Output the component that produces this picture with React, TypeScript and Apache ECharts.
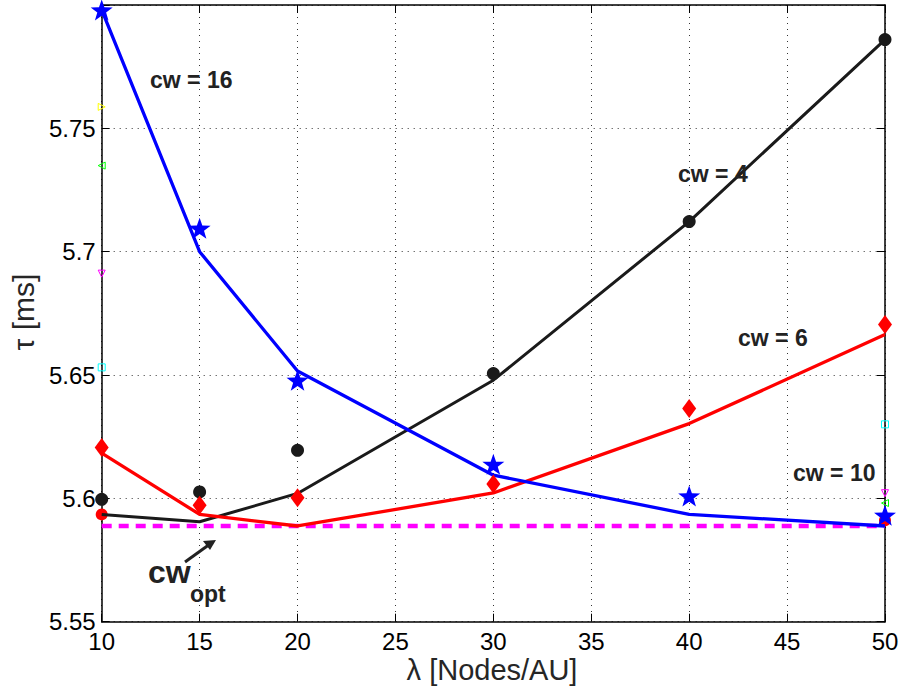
import React, { useEffect, useRef } from "react";
import * as echarts from "echarts";

const xValues = [10, 15, 20, 30, 40, 50];
const cw16Line = [5.798, 5.7, 5.6516, 5.6094, 5.5935, 5.5888];
const cw16Marks = [5.798, 5.7095, 5.6479, 5.6138, 5.601, 5.5932];
const cw4Line = [5.5935, 5.5905, 5.602, 5.6479, 5.7122, 5.786];
const cw4Marks = [5.5996, 5.6026, 5.6195, 5.6506, 5.7122, 5.786];
const cw6Line = [5.6183, 5.5935, 5.5888, 5.6022, 5.6303, 5.6664];
const cw6Marks = [5.6206, 5.5972, 5.6002, 5.6058, 5.6364, 5.6705];
const cwOptValue = 5.5888;
const redEdgeX = [10, 50];
const redEdgeY = [5.5935, 5.5911];
const edgeX = [10, 10, 10, 10, 50, 50, 50];
const edgeY = [5.7587, 5.7349, 5.6911, 5.6531, 5.63, 5.6021, 5.5981];
const edgeColors = ["#ffff00", "#00ff00", "#ff00ff", "#00ffff", "#00ffff", "#ff00ff", "#00ff00"];
const edgeSymbols = ["triangle", "triangle", "triangle", "rect", "rect", "triangle", "triangle"];
const edgeRot = [-90, 90, 180, 0, 0, 180, 90];
const xTicks = { min: 10, max: 50, interval: 5 };
const yTicks = { min: 5.55, max: 5.8, interval: 0.05 };
const xLabel = "λ [Nodes/AU]";
const yLabel = "τ [ms]";
const annotations = ["cw = 16", "cw = 4", "cw = 6", "cw = 10"];

const STAR =
  "path://M0,-10L2.35,-3.24L9.51,-3.09L3.8,1.24L5.88,8.09L0,4L-5.88,8.09L-3.8,1.24L-9.51,-3.09L-2.35,-3.24Z";

const pairs = (xs: number[], ys: number[]) => xs.map((x, i) => [x, ys[i]]);

export default function App() {
  const ref = useRef<HTMLDivElement>(null);
  useEffect(() => {
    if (!ref.current) return;
    const chart = echarts.init(ref.current, null, { renderer: "svg" });
    const font = "'Liberation Sans', Arial, Helvetica, sans-serif";
    const splitLine = { show: true, lineStyle: { color: "#333", type: [1, 5] as any, width: 1 } };
    const axisLine = { show: true, lineStyle: { color: "#000", width: 1.5 } };
    const axisTick = { show: true, inside: true, length: 8, lineStyle: { color: "#000", width: 1 } };
    const fmtY = (v: number) => (v > 5.799 ? "" : String(+v.toFixed(2)));
    chart.setOption({
      animation: false,
      backgroundColor: "#fff",
      grid: { left: 101.7, right: 17, top: 5, bottom: 65.3, containLabel: false },
      xAxis: [
        {
          type: "value",
          ...xTicks,
          axisLine,
          axisTick,
          splitLine,
          axisLabel: { color: "#000", fontSize: 24, fontFamily: font, margin: 8 },
        },
        {
          type: "value",
          position: "top",
          ...xTicks,
          axisLine,
          axisTick,
          splitLine: { show: false },
          axisLabel: { show: false },
        },
      ],
      yAxis: [
        {
          type: "value",
          ...yTicks,
          axisLine,
          axisTick,
          splitLine,
          axisLabel: { color: "#000", fontSize: 24, fontFamily: font, margin: 6, formatter: fmtY },
        },
        {
          type: "value",
          position: "right",
          ...yTicks,
          axisLine,
          axisTick,
          splitLine: { show: false },
          axisLabel: { show: false },
        },
      ],
      series: [
        {
          type: "line",
          name: "cw opt",
          data: xValues.map((x) => [x, cwOptValue]),
          showSymbol: false,
          lineStyle: { color: "#ff00ff", width: 4.5, type: [10, 7] as any },
          z: 2,
        },
        {
          type: "scatter",
          data: redEdgeX.map((x, i) => [x, redEdgeY[i]]),
          symbol: "circle",
          symbolSize: 12,
          itemStyle: { color: "#ff0000", opacity: 1 },
          z: 2,
        },
        {
          type: "line",
          name: "cw = 4",
          data: pairs(xValues, cw4Line),
          showSymbol: false,
          lineStyle: { color: "#1a1a1a", width: 3 },
          z: 3,
        },
        {
          type: "line",
          name: "cw = 6",
          data: pairs(xValues, cw6Line),
          showSymbol: false,
          lineStyle: { color: "#ff0000", width: 3.3 },
          z: 3,
        },
        {
          type: "line",
          name: "cw = 16",
          data: pairs(xValues, cw16Line),
          showSymbol: false,
          lineStyle: { color: "#0000ff", width: 3.3 },
          z: 3,
        },
        {
          type: "scatter",
          data: pairs(xValues, cw4Marks),
          symbol: "circle",
          symbolSize: 13,
          itemStyle: { color: "#1a1a1a", opacity: 1 },
          z: 4,
        },
        {
          type: "scatter",
          data: pairs(xValues, cw6Marks),
          symbol: "diamond",
          symbolSize: [14, 19],
          itemStyle: { color: "#ff0000", opacity: 1 },
          z: 4,
        },
        {
          type: "scatter",
          data: pairs(xValues, cw16Marks),
          symbol: STAR,
          symbolSize: [22, 21],
          itemStyle: { color: "#0000ff", opacity: 1 },
          z: 4,
        },
        {
          type: "scatter",
          data: edgeX.map((x, i) => ({
            value: [x, edgeY[i]],
            symbol: edgeSymbols[i],
            symbolRotate: edgeRot[i],
            itemStyle: { color: "none", borderColor: edgeColors[i], borderWidth: 1, opacity: 1 },
          })),
          symbolSize: 7,
          z: 4,
        },
      ],
      graphic: [
        {
          type: "text",
          left: 150,
          top: 68,
          style: { text: annotations[0], font: `bold 23px ${font}`, fill: "#222" },
          z: 10,
        },
        {
          type: "text",
          left: 678,
          top: 162,
          style: { text: annotations[1], font: `bold 23px ${font}`, fill: "#222" },
          z: 10,
        },
        {
          type: "text",
          left: 738,
          top: 326,
          style: { text: annotations[2], font: `bold 23px ${font}`, fill: "#222" },
          z: 10,
        },
        {
          type: "text",
          left: 793,
          top: 461,
          style: { text: annotations[3], font: `bold 23px ${font}`, fill: "#222" },
          z: 10,
        },
        {
          type: "text",
          left: 148,
          top: 556,
          style: { text: "cw", font: `bold 32px ${font}`, fill: "#222" },
          z: 10,
        },
        {
          type: "text",
          left: 190,
          top: 582,
          style: { text: "opt", font: `bold 23px ${font}`, fill: "#222" },
          z: 10,
        },
        {
          type: "line",
          shape: { x1: 185, y1: 562, x2: 210, y2: 544 },
          style: { stroke: "#222", lineWidth: 3 },
          z: 10,
        },
        {
          type: "polygon",
          shape: { points: [[216, 540], [203, 541], [210, 550]] },
          style: { fill: "#222" },
          z: 10,
        },
        {
          type: "text",
          x: 492,
          y: 670,
          style: {
            text: xLabel,
            font: `29px ${font}`,
            fill: "#262626",
            align: "center",
            verticalAlign: "middle",
          },
          z: 10,
        },
        {
          type: "text",
          x: 23,
          y: 312,
          rotation: Math.PI / 2,
          style: {
            text: yLabel,
            font: `30px ${font}`,
            fill: "#262626",
            align: "center",
            verticalAlign: "middle",
          },
          z: 10,
        },
      ],
    });
    return () => chart.dispose();
  }, []);
  return <div ref={ref} style={{ width: 902, height: 687, position: "absolute", left: 0, top: 0 }} />;
}
